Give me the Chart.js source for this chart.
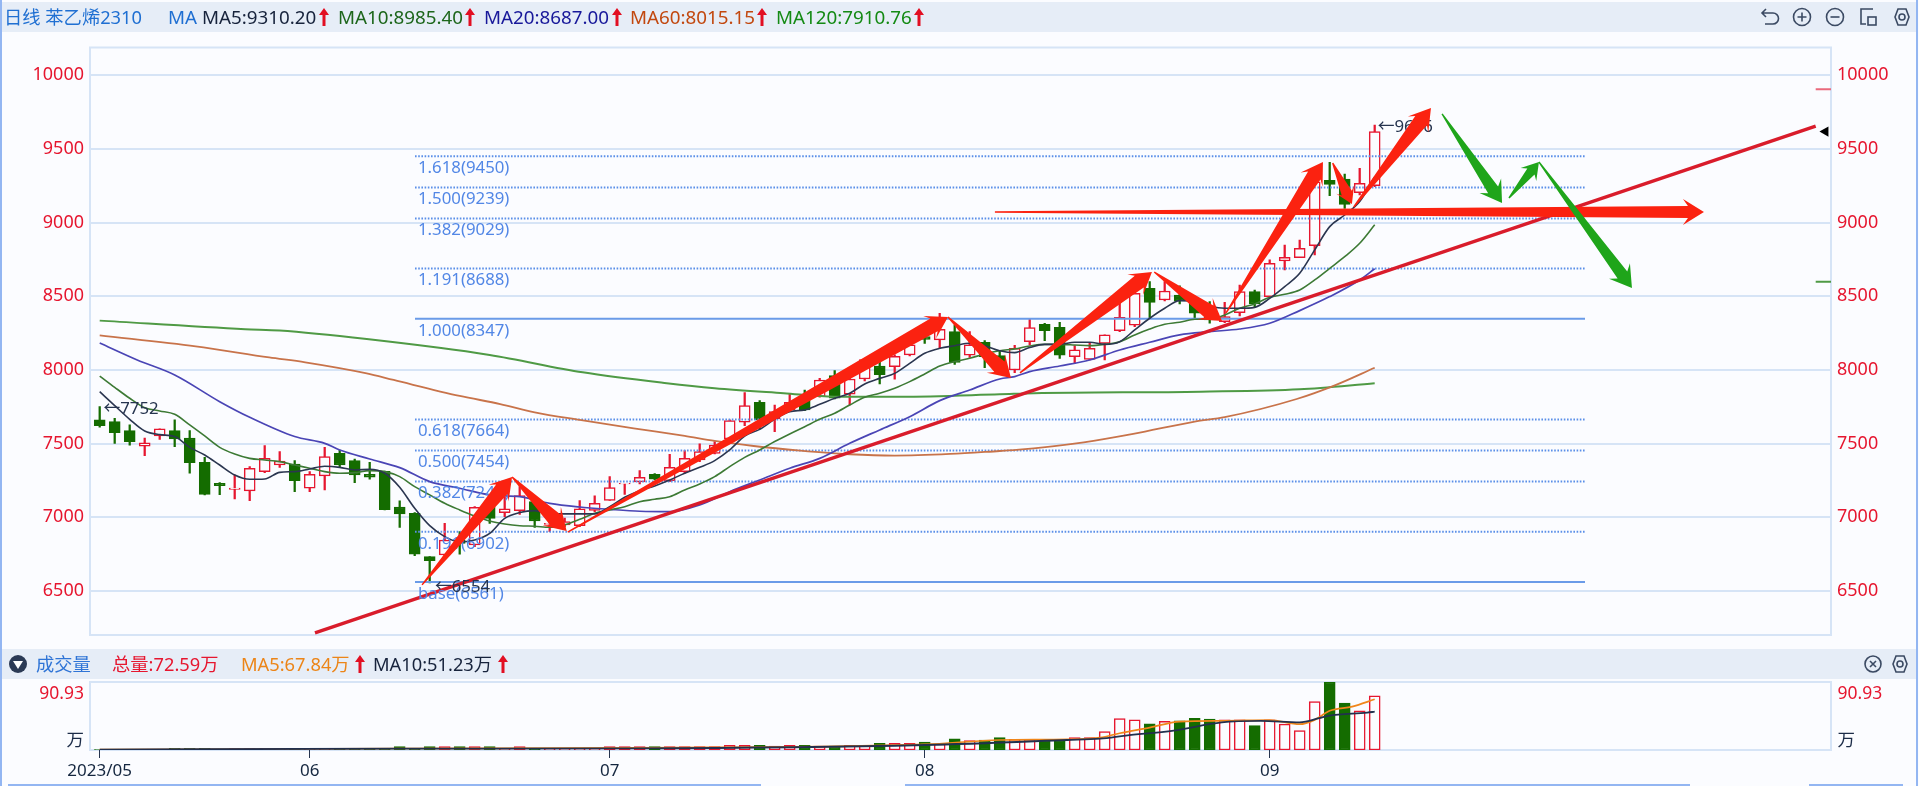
<!DOCTYPE html>
<html lang="zh">
<head>
<meta charset="utf-8">
<title>苯乙烯2310 日线</title>
<script src="https://cdn.jsdelivr.net/npm/chart.js@4/dist/chart.umd.js"></script>
<style>
html,body{margin:0;padding:0;background:#fbfcff;overflow:hidden;width:1919px;height:786px}
canvas{position:absolute;left:0}
.band{position:absolute;background:#e6edf7}
.t{position:absolute;white-space:nowrap;font-family:"Noto Sans","Noto Sans CJK SC",sans-serif;line-height:20px;height:20px}
.ic{position:absolute}
.edge{position:absolute;background:#93b6f2}
</style>
</head>
<body>
<div class="band" style="left:2px;top:2px;width:1914px;height:30px"></div>
<div class="band" style="left:2px;top:649px;width:1914px;height:30px"></div>
<canvas id="main" width="1919" height="645" style="top:0;width:1919px;height:645px"></canvas>
<canvas id="vol" width="1919" height="146" style="top:640px;width:1919px;height:146px"></canvas>
<div id="overlay"></div>
<div class="edge" style="left:0;top:0;width:2px;height:786px"></div>
<div class="edge" style="left:1916px;top:0;width:2px;height:786px"></div>
<div class="edge" style="left:8px;top:784px;width:753px;height:2px"></div>
<div class="edge" style="left:905px;top:784px;width:785px;height:2px"></div>
<div class="edge" style="left:1809px;top:784px;width:94px;height:2px"></div>
<script>
// ---------- categories / ticks ----------
const priceTicks = [6500,7000,7500,8000,8500,9000,9500,10000];
const monthIdx = [0,14,34,55,78];
const monthLabels = ['2023/05','06','07','08','09'];
const volMax = 90.93;

// ---------- candles ----------
const highs = [7751,7672,7627,7538,7600,7661,7588,7407,7235,7287,7344,7486,7446,7385,7310,7475,7457,7396,7373,7314,7111,7032,6733,6959,6903,7072,7118,7136,7208,7111,6970,6995,7113,7145,7276,7231,7317,7296,7428,7453,7498,7514,7661,7846,7792,7762,7842,7864,7943,7996,7955,8075,8057,8102,8204,8260,8385,8305,8260,8199,8131,8168,8344,8317,8323,8165,8188,8238,8464,8545,8600,8600,8572,8475,8464,8459,8577,8543,8747,8848,8882,9290,9410,9330,9369,9663];
const lows = [7611,7502,7489,7419,7529,7480,7299,7152,7154,7124,7113,7303,7339,7174,7174,7186,7339,7235,7258,7050,6932,6740,6554,6733,6749,6801,6959,7004,7020,6932,6903,6937,6937,7038,7115,7156,7226,7253,7242,7299,7378,7430,7514,7622,7600,7581,7717,7724,7815,7803,7762,7925,7905,7937,8095,8181,8147,8038,8086,8016,8023,7982,8170,8199,8079,8045,8068,8068,8260,8294,8351,8468,8448,8351,8317,8321,8367,8425,8493,8679,8763,8781,9183,9097,9188,9244];
const opens = [7661,7649,7588,7482,7552,7588,7538,7373,7231,7190,7179,7310,7355,7362,7197,7281,7434,7385,7292,7312,7070,7027,6733,6744,6846,6812,7072,7032,7045,7106,6952,6948,6943,7047,7115,7226,7240,7292,7249,7310,7389,7434,7532,7645,7781,7668,7729,7796,7819,7962,7835,7939,8027,8023,8102,8226,8204,8260,8100,8188,8097,8000,8192,8310,8290,8090,8072,8181,8267,8305,8554,8475,8509,8453,8385,8328,8389,8532,8498,8740,8763,8844,9287,9296,9204,9251];
const closes = [7622,7575,7514,7505,7600,7532,7371,7156,7215,7199,7333,7400,7382,7249,7292,7412,7355,7287,7272,7052,7023,6749,6706,6846,6823,7068,6993,7057,7147,6975,6959,6971,7057,7095,7201,7231,7272,7258,7339,7400,7446,7491,7656,7758,7661,7717,7781,7729,7932,7808,7939,8071,7968,8093,8170,8208,8276,8052,8170,8090,8050,8147,8287,8267,8100,8136,8147,8238,8357,8520,8459,8536,8468,8385,8339,8362,8532,8448,8724,8765,8826,9278,9260,9124,9267,9618];

// ---------- moving averages ----------
const ma5 = [7853,7758,7665,7586,7561,7548,7475,7423,7355,7287,7258,7260,7305,7310,7328,7346,7339,7321,7326,7299,7204,7061,6943,6869,6833,6846,6891,6993,7032,7045,7023,7023,7023,7023,7072,7136,7181,7213,7253,7299,7339,7385,7457,7552,7597,7665,7717,7729,7767,7808,7842,7905,7943,7977,8045,8113,8147,8165,8181,8165,8131,8118,8152,8174,8174,8188,8188,8174,8192,8272,8351,8419,8471,8468,8434,8419,8419,8425,8486,8566,8656,8815,8973,9052,9143,9310];
const ma10 = [7959,7882,7808,7744,7722,7699,7627,7552,7475,7430,7400,7389,7378,7355,7333,7310,7299,7303,7317,7310,7276,7208,7152,7095,7050,7009,6975,6955,6943,6939,6932,6948,6986,7027,7050,7072,7106,7122,7140,7186,7226,7276,7344,7407,7457,7514,7566,7615,7665,7706,7762,7815,7842,7876,7921,7973,8027,8057,8079,8109,8131,8143,8163,8174,8174,8170,8165,8174,8192,8238,8278,8310,8324,8344,8346,8373,8419,8448,8493,8514,8543,8611,8690,8769,8860,8985];
const ma20Idx = [0,2.5,5,8,10,13,15,16,18,20,22,24,26,28,30,32,34,36,38,40,42,44,46,48,50,52,54,56,58,60,61,62,64,66,68,70,72,74,76,78,80,82,84,85];
const ma20 = [8183,8068,7966,7785,7679,7548,7502,7457,7396,7337,7242,7197,7152,7140,7095,7070,7054,7041,7038,7084,7174,7253,7333,7400,7502,7593,7683,7792,7864,7939,7955,7989,8027,8068,8136,8188,8238,8260,8278,8317,8403,8498,8611,8687];
const ma60Idx = [0,6.4,11.3,13.7,17.8,19.6,24,26.7,29,32,35.6,39,41,43.6,46.7,50,53,56.7,60,61.1,65.6,68.9,73,75,79.8,82.3,85];
const ma60 = [8235,8160,8085,8052,7977,7932,7824,7769,7713,7661,7604,7552,7518,7484,7453,7428,7419,7430,7450,7457,7509,7566,7650,7680,7803,7894,8015];
const ma120Idx = [0,9.7,12,17.8,26,32.2,37.8,41,45.6,49,53.4,60,62.3,73.4,80,85];
const ma120 = [8335,8277,8268,8210,8102,7984,7910,7876,7842,7819,7819,7835,7842,7853,7869,7910];

// ---------- volume ----------
const volumes = [0.5,0.5,0.8,0.8,1,2.2,2.2,2.2,1,1.8,1.8,1.8,1.8,1.4,1.4,1.4,1.4,1,1,1,4.5,1.8,4.5,4.5,4.5,4.5,4.5,1.4,4.5,1.8,2.2,2.2,2.2,2.2,4.5,4.5,4.5,4.5,4.5,4.5,4.5,4.5,6.3,6.3,6.3,5.4,6.3,6.3,5.4,5.4,6.3,6.3,9,9,9,10.7,8,14.8,12.5,13.4,16.6,14.3,14.3,13.4,13.4,16.6,16.6,24.6,42,40.3,35,38.5,39,42.5,41.2,40.3,40.3,32.7,40.3,34.5,26,64.9,90.93,62.7,52.4,72.59];
const volMa5Idx = [0,20,36,55,60,64.5,66.7,68,70,72,75,78,80,81,82,83.5,85];
const volMa5 = [0.5,2,3,7.5,13.4,14.3,16.6,22.4,30,38,39,40,34.5,40.3,52.4,58,67.84];
const volMa10Idx = [0,20,35.5,55,64.5,66.7,68.4,71.6,74.8,77.4,80,81.3,81.9,84.5,85];
const volMa10 = [0.5,1.8,2.2,6.7,13.4,15.2,19.3,26,37,39,37,42.5,45.7,50,51.23];

// ---------- fibonacci levels ----------
const fibLabels = ['1.618(9450)','1.500(9239)','1.382(9029)','1.191(8688)','1.000(8347)','0.618(7664)','0.500(7454)','0.382(7243)','0.191(6902)','base(6561)'];
const fibLevels = [9450,9239,9029,8688,8347,7664,7454,7243,6902,6561];
const fibSolid = [false,false,false,false,true,false,false,false,false,true];
const fibRange = [21.02,99.02];

// ---------- hand-drawn lines and arrows (candle index / price) ----------
const trendX = [14.35,114.4];
const trendY = [6215,9656];
const flatArrow = [59.68,9072,106.95,9072];
const redArrows = [
  [21.49,6541,27.49,7274],[27.49,7274,31.13,6907],[31.2,6900,56.55,8360],
  [56.55,8360,60.75,7946],[61.35,7980,70.15,8665],[70.3,8665,74.82,8333],
  [75.09,8387,81.55,9412],[82.2,9405,83.48,9127],[83.6,9106,88.75,9778]
];
const greenArrows = [
  [89.49,9738,93.49,9133],[93.95,9167,95.95,9412],[95.95,9412,102.15,8557]
];
const notes = [['←7752',0.25,7735],['←6554',22.35,6525],['←9666',85.2,9650]];
const limitUp = 9905, limitDown = 8599, lastPrice = 9618;
const limitX = [114.4,115.42];

// ---------- styling ----------
const RED='#e6162f', GREEN='#146c00', PAPER='#fbfcff', GRID='#d6e4f6';
const FONT='"Noto Sans","Noto Sans CJK SC",sans-serif';
const X_MIN=-0.647, X_MAX=115.42;
const isUp=i=>closes[i]>=opens[i];
const pts=(xs,ys)=>xs.map((x,i)=>({x,y:ys[i]}));
const seq=a=>a.map((y,i)=>({x:i,y}));
const line=(data,color,width,order,extra)=>Object.assign({type:'line',data,borderColor:color,borderWidth:width,pointRadius:0,fill:false,order,cubicInterpolationMode:'monotone'},extra||{});

function arrowPath(ctx,x0,y0,x1,y1,color,neck){
  const dx=x1-x0,dy=y1-y0,len=Math.hypot(dx,dy),ux=dx/len,uy=dy/len,nx=-uy,ny=ux;
  const s=Math.max(.6,Math.min(1,len/60));
  const neckBack=16*s,wingBack=21*s,neckHalf=(neck||7.4)*s,wingHalf=13*s,tail=.7;
  const P=(b,h)=>[x1-ux*b+nx*h,y1-uy*b+ny*h];
  const poly=[[x0+nx*tail,y0+ny*tail],P(neckBack,neckHalf),P(wingBack,wingHalf),[x1,y1],P(wingBack,-wingHalf),P(neckBack,-neckHalf),[x0-nx*tail,y0-ny*tail]];
  ctx.beginPath();poly.forEach((p,i)=>i?ctx.lineTo(p[0],p[1]):ctx.moveTo(p[0],p[1]));ctx.closePath();
  ctx.fillStyle=color;ctx.fill();
}
const frame={id:'frame',beforeDraw(c){const a=c.chartArea,x=c.ctx;x.save();x.strokeStyle=GRID;x.lineWidth=2;x.strokeRect(a.left,a.top,a.right-a.left,a.bottom-a.top);x.restore();}};
const drawings={id:'drawings',afterDatasetsDraw(c){
  const x=c.ctx,sx=c.scales.x,sy=c.scales.y;
  x.save();
  x.textBaseline='middle';x.textAlign='left';
  x.font='16.8px '+FONT;x.fillStyle='#5287e6';
  fibLabels.forEach((t,i)=>x.fillText(t,sx.getPixelForValue(fibRange[0])+3,sy.getPixelForValue(fibLevels[i])+12));
  x.fillStyle='#26344f';
  notes.forEach(n=>x.fillText(n[0],sx.getPixelForValue(n[1]),sy.getPixelForValue(n[2])));
  const a=(r,col,neck)=>arrowPath(x,sx.getPixelForValue(r[0]),sy.getPixelForValue(r[1]),sx.getPixelForValue(r[2]),sy.getPixelForValue(r[3]),col,neck);
  a(flatArrow,'#fb2210',6);
  redArrows.forEach(r=>a(r,'#fb2210'));
  greenArrows.forEach(r=>a(r,'#1fa51a',6));
  x.restore();
}};
const volLabels={id:'volLabels',afterDraw(c){
  const x=c.ctx;x.save();x.textBaseline='middle';
  [[c.chartArea.left-6,'right'],[c.chartArea.right+6.5,'left']].forEach(([px,al])=>{
    x.textAlign=al;
    x.font='17.5px '+FONT;x.fillStyle=RED;x.fillText('90.93',px,c.scales.y.getPixelForValue(volMax)+12);
    x.font='17.5px "Noto Sans CJK SC",sans-serif';x.fillStyle='#1c2c48';x.fillText('万',px,c.scales.y.getPixelForValue(0)-11);
  });
  x.restore();
}};
const noPad=s=>{s.paddingTop=0;s.paddingBottom=0;s.paddingLeft=0;s.paddingRight=0;};

// ---------- main chart ----------
const yCommon={min:6201,max:10189,afterBuildTicks:s=>{s.ticks=priceTicks.map(value=>({value}));},
  ticks:{color:RED,font:{family:FONT,size:18},autoSkip:false,padding:6,callback:v=>String(v)}};
new Chart(document.getElementById('main'),{
  type:'bar',
  data:{datasets:[
    {label:'wick',data:highs.map((h,i)=>({x:i,y:[lows[i],h]})),backgroundColor:c=>isUp(c.dataIndex)?RED:GREEN,borderWidth:0,barThickness:1.6,grouped:false,order:60},
    {label:'body',data:opens.map((o,i)=>({x:i,y:[o,closes[i]]})),backgroundColor:c=>isUp(c.dataIndex)?PAPER:GREEN,borderColor:c=>isUp(c.dataIndex)?RED:GREEN,borderWidth:1.5,borderSkipped:false,barThickness:11,grouped:false,order:50},
    ...fibLevels.map((v,i)=>line(pts(fibRange,[v,v]),fibSolid[i]?'#6a9be8':'#5b8fe8',2,40,fibSolid[i]?{}:{borderDash:[1.6,1.6]})),
    line(pts(ma120Idx,ma120),'#4f9a45',2,30),
    line(pts(ma60Idx,ma60),'#c8734a',1.8,29),
    line(pts(ma20Idx,ma20),'#4a45b5',1.7,28),
    line(seq(ma10),'#3d7a35',1.6,27),
    line(seq(ma5),'#2b3650',1.6,26),
    line(pts(trendX,trendY),'#d91c2b',3.4,10,{cubicInterpolationMode:'default'}),
    line(pts(limitX,[limitUp,limitUp]),'#ea6a7c',2,9),
    line(pts(limitX,[limitDown,limitDown]),'#4f9a45',2,9),
    {type:'scatter',data:[{x:115.05,y:lastPrice}],pointStyle:'triangle',rotation:-90,pointRadius:6,backgroundColor:'#000',borderWidth:0,order:8}
  ]},
  options:{animation:false,responsive:false,events:[],
    layout:{padding:{top:47.5,bottom:10,left:0,right:0}},
    plugins:{legend:{display:false},tooltip:{enabled:false}},
    scales:{
      x:{type:'linear',display:false,min:X_MIN,max:X_MAX,offset:false},
      y:Object.assign({position:'left',afterFit:s=>{s.width=90;noPad(s);},grid:{color:GRID,lineWidth:2,drawTicks:false},border:{display:false}},yCommon),
      y2:Object.assign({position:'right',afterFit:s=>{s.width=88;noPad(s);},grid:{display:false,drawTicks:false},border:{display:false}},yCommon)
    }},
  plugins:[frame,drawings]
});

// ---------- volume chart ----------
new Chart(document.getElementById('vol'),{
  type:'bar',
  data:{datasets:[
    {data:seq(volumes),backgroundColor:c=>isUp(c.dataIndex)?PAPER:GREEN,borderColor:c=>isUp(c.dataIndex)?RED:GREEN,borderWidth:1.5,borderSkipped:false,barThickness:11,order:20},
    line(pts(volMa5Idx,volMa5),'#f0861a',1.7,11),
    line(pts(volMa10Idx,volMa10),'#22304e',1.8,10)
  ]},
  options:{animation:false,responsive:false,events:[],
    layout:{padding:{top:42,bottom:0,left:0,right:0}},
    plugins:{legend:{display:false},tooltip:{enabled:false}},
    scales:{
      x:{type:'linear',min:X_MIN,max:X_MAX,offset:false,afterFit:s=>{s.height=36;noPad(s);},
        afterBuildTicks:s=>{s.ticks=monthIdx.map(value=>({value}));},
        grid:{offset:false,drawOnChartArea:false,color:'#26344f',lineWidth:1,tickLength:8},border:{display:false},
        ticks:{autoSkip:false,maxRotation:0,color:'#14263f',padding:3,font:{family:FONT,size:17},callback:v=>monthLabels[monthIdx.indexOf(v)]||''}},
      y:{position:'left',min:0,max:volMax,afterFit:s=>{s.width=90;noPad(s);},grid:{display:false},border:{display:false},ticks:{display:false}},
      y2:{position:'right',min:0,max:volMax,afterFit:s=>{s.width=88;noPad(s);},grid:{display:false},border:{display:false},ticks:{display:false}}
    }},
  plugins:[frame,volLabels]
});

// ---------- header bars ----------
const headerTexts=[
 ['日线 苯乙烯2310',4,17,'#1f6fd2',18.3],['MA',168,17,'#1f6fd2',18.8],['MA5:9310.20',202,17,'#17233c',18.8],
 ['MA10:8985.40',338,17,'#1d661b',18.8],['MA20:8687.00',484,17,'#18189a',18.8],['MA60:8015.15',630,17,'#c2480f',18.8],['MA120:7910.76',776,17,'#148a14',18.8],
 ['成交量',36,664,'#2f74d6',18.3],['总量:72.59万',112,664,'#e6162f',18.3],['MA5:67.84万',241,664,'#ec8518',18.3],['MA10:51.23万',373,664,'#17233c',18.3]
];
const upArrows=[[324,17],[470,17],[617,17],[762,17],[919,17],[360,664],[503,664]];
const ov=document.getElementById('overlay');
headerTexts.forEach(([t,x,y,c,fs])=>{const d=document.createElement('div');d.className='t';d.textContent=t;
  d.style.cssText=`left:${x}px;top:${y-10}px;color:${c};font-size:${fs}px`;ov.appendChild(d);});
const svg=(x,y,w,h,body)=>{const d=document.createElement('div');d.className='ic';d.style.cssText=`left:${x-w/2}px;top:${y-h/2}px;width:${w}px;height:${h}px`;
  d.innerHTML=`<svg width="${w}" height="${h}" viewBox="0 0 ${w} ${h}" fill="none" stroke="#3b4a63" stroke-width="1.6">${body}</svg>`;ov.appendChild(d);};
upArrows.forEach(([x,y])=>svg(x,y,10,18,'<polygon points="5,0 10,7 6.5,7 6.5,18 3.5,18 3.5,7 0,7" fill="#e20f22" stroke="none"/>'));
const hex='<polygon points="5,11 8,3 16,3 19,11 16,19 8,19" /><circle cx="12" cy="11" r="3"/>';
svg(1770,17,22,22,'<path d="M7 3 L3 7 L7 11 M3 7 H14 A5.5 5.5 0 0 1 14 18 H6"/>');
svg(1802,17,22,22,'<circle cx="11" cy="11" r="8.5"/><path d="M6.5 11H15.5M11 6.5V15.5"/>');
svg(1835,17,22,22,'<circle cx="11" cy="11" r="8.5"/><path d="M6.5 11H15.5"/>');
svg(1868,17,22,22,'<path d="M16 3H4V18H9"/><rect x="11" y="11" width="8" height="8"/>');
svg(1902,17,24,22,hex);
svg(1873,664,22,22,'<circle cx="11" cy="11" r="8"/><path d="M8 8L14 14M14 8L8 14"/>');
svg(1900,664,24,22,hex);
svg(18,664,20,20,'<circle cx="10" cy="10" r="9" fill="#2b3a55" stroke="none"/><polygon points="5,7 15,7 10,15" fill="#fff" stroke="none"/>');
</script>
</body>
</html>
